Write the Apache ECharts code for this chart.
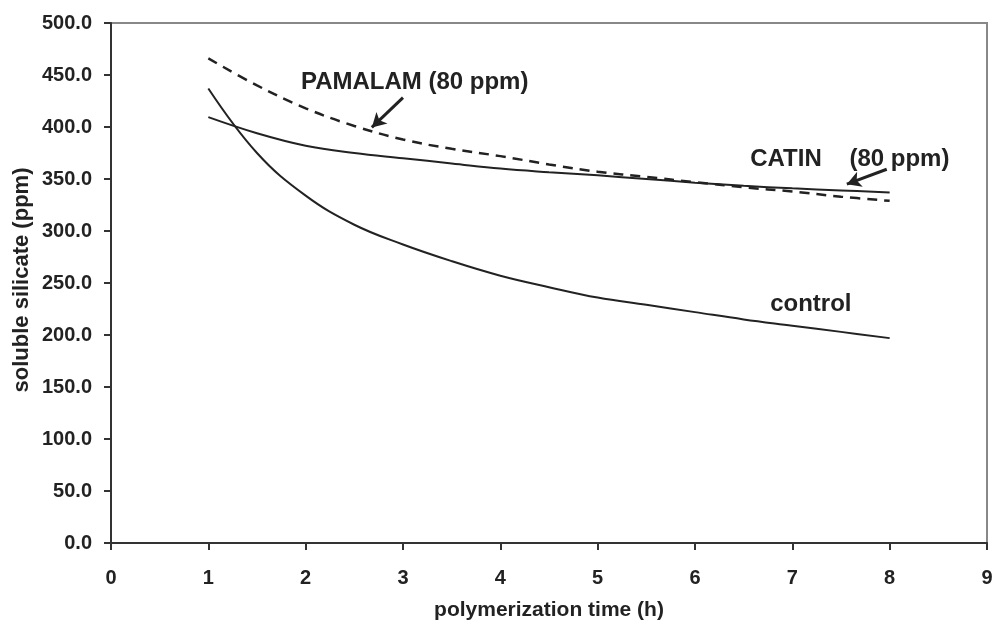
<!DOCTYPE html>
<html>
<head>
<meta charset="utf-8">
<script src="https://cdn.jsdelivr.net/npm/echarts@6/dist/echarts.min.js"></script>
<style>
html,body{margin:0;padding:0;background:#fff;}
#c{width:998px;height:626px;}
</style>
</head>
<body>
<div id="c"></div>
<script>
var hours = [1, 1.5, 2, 2.5, 3, 3.5, 4, 4.5, 5, 5.5, 6, 6.5, 7, 7.5, 8];
var control = [437, 375, 334, 306, 287, 271, 257, 246, 236, 229, 222, 215, 209, 203, 197];
var catin = [409.5, 394, 382, 375, 370, 365, 360, 356.5, 353.5, 350, 346.5, 343.5, 341, 339, 337];
var pamalam = [466, 440, 418, 401, 388, 379, 372, 364, 357, 352, 347, 342, 338, 333, 329];
var xTicks = [0, 1, 2, 3, 4, 5, 6, 7, 8, 9];
var yTicks = [0, 50, 100, 150, 200, 250, 300, 350, 400, 450, 500];

var FONT = 'Liberation Sans, Arial, sans-serif';
var INK = '#222';

function pairs(xs, ys) { return xs.map(function (x, i) { return [x, ys[i]]; }); }

var labelStyle = { show: true, color: INK, fontSize: 24, fontWeight: 'bold', fontFamily: FONT };

var chart = echarts.init(document.getElementById('c'), null, { renderer: 'canvas' });
chart.setOption({
  backgroundColor: '#fff',
  animation: false,
  grid: { left: 111, right: 11, top: 23, bottom: 80, show: true, borderColor: '#888', borderWidth: 2, backgroundColor: 'transparent' },
  xAxis: {
    type: 'value', min: xTicks[0], max: xTicks[xTicks.length - 1], interval: 1,
    name: 'polymerization time (h)', nameLocation: 'middle', nameGap: 57,
    nameTextStyle: { color: INK, fontSize: 21, fontWeight: 'bold', fontFamily: FONT },
    axisLine: { onZero: false, lineStyle: { color: '#333', width: 2 } },
    axisTick: { show: true, length: 7, lineStyle: { color: '#333', width: 2 } },
    axisLabel: { margin: 25, color: INK, fontSize: 20, fontWeight: 'bold', fontFamily: FONT },
    splitLine: { show: false }
  },
  yAxis: {
    type: 'value', min: yTicks[0], max: yTicks[yTicks.length - 1], interval: 50,
    axisLine: { show: true, onZero: false, lineStyle: { color: '#333', width: 2 } },
    axisTick: { show: true, length: 7, lineStyle: { color: '#333', width: 2 } },
    axisLabel: { margin: 19, color: INK, fontSize: 20, fontWeight: 'bold', fontFamily: FONT,
      formatter: function (v) { return v.toFixed(1); } },
    splitLine: { show: false }
  },
  graphic: [{
    type: 'text', x: 22, y: 280, rotation: Math.PI / 2,
    style: { text: 'soluble silicate (ppm)', fill: INK, fontSize: 22, fontWeight: 'bold', fontFamily: FONT,
      align: 'center', verticalAlign: 'middle' }
  }],
  series: [
    {
      name: 'control', type: 'line', data: pairs(hours, control), smooth: 0.4,
      showSymbol: false, lineStyle: { color: INK, width: 2 },
      markPoint: { symbol: 'circle', symbolSize: 0, data: [
        { coord: [7.19, 229.3], label: Object.assign({ formatter: 'control', position: 'inside' }, labelStyle) }
      ] }
    },
    {
      name: 'CATIN (80 ppm)', type: 'line', data: pairs(hours, catin), smooth: 0.4,
      showSymbol: false, lineStyle: { color: INK, width: 2 },
      markPoint: { symbol: 'circle', symbolSize: 0, data: [
        { coord: [6.935, 369], label: Object.assign({ formatter: 'CATIN', position: 'inside' }, labelStyle) },
        { coord: [8.10, 369], label: Object.assign({ formatter: '(80 ppm)', position: 'inside' }, labelStyle) }
      ] },
      markLine: { silent: true, symbol: ['none', 'arrow'], symbolSize: [12, 14], label: { show: false },
        lineStyle: { color: INK, width: 3, type: 'solid' },
        data: [[{ coord: [7.97, 359.4] }, { coord: [7.56, 345.0] }]] }
    },
    {
      name: 'PAMALAM (80 ppm)', type: 'line', data: pairs(hours, pamalam), smooth: 0.4,
      showSymbol: false, lineStyle: { color: INK, width: 2.5, type: [10, 7] },
      markPoint: { symbol: 'circle', symbolSize: 0, data: [
        { coord: [3.12, 443], label: Object.assign({ formatter: 'PAMALAM (80 ppm)', position: 'inside' }, labelStyle) }
      ] },
      markLine: { silent: true, symbol: ['none', 'arrow'], symbolSize: [12, 14], label: { show: false },
        lineStyle: { color: INK, width: 3, type: 'solid' },
        data: [[{ coord: [3.0, 428.3] }, { coord: [2.68, 399.6] }]] }
    }
  ]
});
</script>
</body>
</html>
